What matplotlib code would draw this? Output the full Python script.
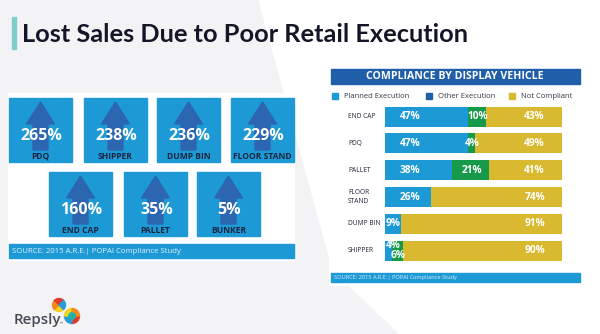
import matplotlib.pyplot as plt
from matplotlib.patches import Rectangle, Polygon, Wedge

# lost-sales tiles
tile_values = ["265%", "238%", "236%", "229%", "160%", "35%", "5%"]
tile_names = ["PDQ", "SHIPPER", "DUMP BIN", "FLOOR STAND", "END CAP", "PALLET", "BUNKER"]

# compliance by display vehicle (percent of displays)
vehicles = ["END CAP", "PDQ", "PALLET", "FLOOR\nSTAND", "DUMP BIN", "SHIPPER"]
planned = [47, 47, 38, 26, 9, 4]
other = [10, 4, 21, 0, 0, 6]
not_compliant = [43, 49, 41, 74, 91, 90]

series_names = ["Planned Execution", "Other Execution", "Not Compliant"]
source_text = "SOURCE: 2015 A.R.E.| POPAI Compliance Study"

GREY = "#f3f3f6"
BLUE = "#1d9ad6"
ARROW = "#2c66b0"
NAVY = "#1f5ea8"
GREEN = "#17994a"
GOLD = "#d8b92f"
INK = "#141628"

plt.rcParams['font.family'] = ['Open Sans', 'DejaVu Sans']

fig = plt.figure(figsize=(6, 3.34), dpi=100)
bg = fig.add_axes([0, 0, 1, 1])
bg.set_xlim(0, 600)
bg.set_ylim(334, 0)
bg.axis('off')
bg.add_patch(Rectangle((0, 0), 600, 334, color=GREY, zorder=0))
bg.add_patch(Polygon([(259, 0), (600, 0), (600, 334), (400, 334), (333, 270)],
                     closed=True, color="white", zorder=0))

# title
bg.add_patch(Rectangle((12, 17), 4, 32, color="#7ecfcb", zorder=1))
bg.text(22, 42.5, "Lost Sales Due to Poor Retail Execution", fontsize=18.3,
        fontweight='bold', family='Lato', color=INK, va='baseline', ha='left')

# left panel with tiles
bg.add_patch(Rectangle((8, 93), 286, 167, color="white", zorder=1))
tile_x = [9, 84, 157, 231, 49, 124, 197]
tile_y = [98, 98, 98, 98, 172, 172, 172]
tw, th = 63, 64
for val, name, x0, y0 in zip(tile_values, tile_names, tile_x, tile_y):
    bg.add_patch(Rectangle((x0, y0), tw, th, color=BLUE, zorder=2))
    cx = x0 + tw / 2
    arrow = [(cx, y0 + 4), (cx + 14, y0 + 26), (cx + 7.5, y0 + 26), (cx + 7.5, y0 + 52),
             (cx - 7.5, y0 + 52), (cx - 7.5, y0 + 26), (cx - 14, y0 + 26)]
    bg.add_patch(Polygon(arrow, closed=True, color=ARROW, zorder=3))
    bg.text(cx + 1, y0 + 38, val, color="white", fontsize=11.5, fontweight='bold',
            ha='center', va='center', zorder=4)
    bg.text(cx, y0 + 58.5, name, color="#1a2440", fontsize=6.1, fontweight='bold',
            ha='center', va='center', zorder=4)
bg.add_patch(Rectangle((9, 244), 285, 14, color=BLUE, zorder=2))
bg.text(12, 251.5, source_text, color="#dff0fa", fontsize=5.6, ha='left', va='center', zorder=4)

# right panel
bg.add_patch(Rectangle((329, 66), 254, 219, color="white", zorder=1))
bg.add_patch(Rectangle((331, 69), 249, 15, color=NAVY, zorder=2))
bg.text(455, 76.8, "COMPLIANCE BY DISPLAY VEHICLE", color="white", fontsize=7.6,
        fontweight='bold', ha='center', va='center', zorder=4)
for sx, label, col in zip([332, 426, 509], series_names, [BLUE, NAVY, GOLD]):
    bg.add_patch(Rectangle((sx, 93), 6, 6, color=col, zorder=2))
    bg.text(sx + 12, 96.5, label, color="#333845", fontsize=5.5, ha='left', va='center', zorder=4)
bg.add_patch(Rectangle((331, 273), 249, 9, color=BLUE, zorder=2))
bg.text(334, 277.8, source_text, color="#dff0fa", fontsize=4.1, ha='left', va='center', zorder=4)

# stacked bars
ax = fig.add_axes([385 / 600, 1 - 264 / 334, 177 / 600, 160.8 / 334])
ax.set_xlim(0, 100)
ax.set_ylim(5.5, -0.5)
ax.axis('off')
rows = range(len(vehicles))
left2 = [p + o for p, o in zip(planned, other)]
ax.barh(rows, planned, height=0.75, color=BLUE)
ax.barh(rows, other, left=planned, height=0.75, color=GREEN)
ax.barh(rows, not_compliant, left=left2, height=0.75, color=GOLD)

lab = dict(color="white", fontsize=7.3, fontweight='bold', va='center')
for i in rows:
    p, o, n = planned[i], other[i], not_compliant[i]
    split = p < 8 and o > 0
    dy = 0.2 if split else 0
    # narrow blue segments get their label pinned to the bar start
    if p >= 20:
        ax.text(14.2, i, f"{p}%", ha='center', **lab)
    else:
        ax.text(0.3, i - dy, f"{p}%", ha='left', **lab)
    if o:
        ax.text(p + o / 2 + 0.4, i + dy, f"{o}%", ha='center', **lab)
    ax.text(84.5, i, f"{n}%", ha='center', **lab)
    ax.text(-20.9, i, vehicles[i], color="#222636", fontsize=4.8, ha='left', va='center',
            linespacing=1.3, clip_on=False)

# Repsly logo
bg.text(14, 324, "Repsly", color="#454a55", fontsize=10.8, fontweight='semibold',
        ha='left', va='baseline')
bg.text(60, 325, "™", color="#454a55", fontsize=3, ha='left', va='baseline')
top_cols = ["#f5d21e", "#f28a1e", "#e23a2c", "#2a9bd6"]
bot_cols = ["#e23a2c", "#2a9bd6", "#f5d21e", "#f28a1e"]
for k, c in enumerate(top_cols):
    bg.add_patch(Wedge((59, 305), 6.5, 45 + 90 * k, 135 + 90 * k, color=c, zorder=3))
for k, c in enumerate(bot_cols):
    bg.add_patch(Wedge((72, 316), 7.5, 90 * k, 90 + 90 * k, color=c, zorder=3))
bg.add_patch(Wedge((72, 316), 3.2, 0, 360, color="#1fb3a8", zorder=4))

fig.savefig("out.png", dpi=100)
